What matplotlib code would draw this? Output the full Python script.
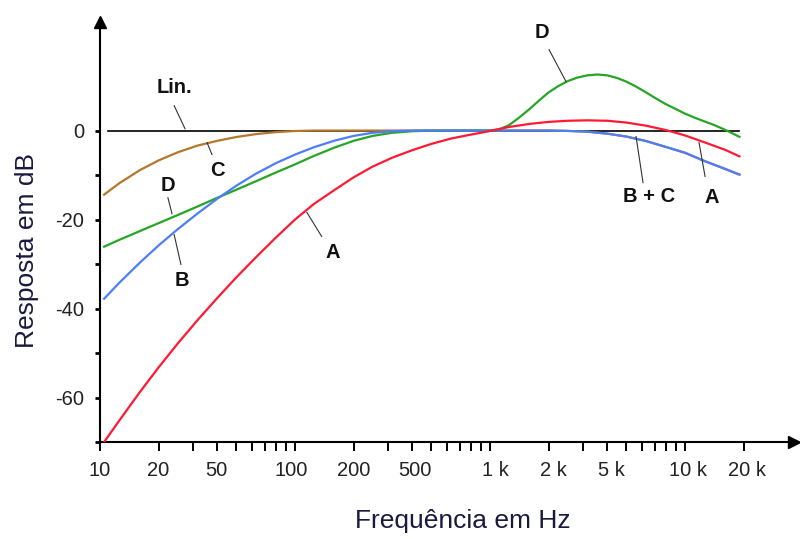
import matplotlib
matplotlib.use('Agg')
import matplotlib.pyplot as plt
import matplotlib.transforms as mtransforms

plt.rcParams['font.family'] = ['Liberation Sans', 'DejaVu Sans']

# frequencies (Hz) shared by the A, B and C curves
freq = [10.5, 12.5, 16, 20, 25, 31.5, 40, 50, 63, 80, 100, 125, 160, 200, 250, 315,
        400, 500, 630, 800, 1000, 1250, 1600, 2000, 2500, 3150, 4000, 5000, 6300,
        8000, 10000, 12500, 16000, 19000]

# response in dB
a_db = [-70, -65.3, -58.8, -53.2, -47.9, -42.7, -37.6, -33.0, -28.5, -24.0, -20.0, -16.5,
        -13.3, -10.5, -8.1, -6.1, -4.4, -3.0, -1.8, -0.9, -0.1, 0.8, 1.5, 1.95, 2.2, 2.3,
        2.2, 1.8, 1.1, 0.1, -1.1, -2.6, -4.3, -5.8]
b_db = [-37.8, -34.3, -29.7, -25.8, -22.2, -18.7, -15.3, -12.4, -9.7, -7.3, -5.4, -3.75,
        -2.25, -1.2, -0.5, -0.15, 0, 0, 0, 0, 0, 0, 0, 0, -0.08, -0.25, -0.7, -1.35, -2.35,
        -3.7, -5.0, -6.8, -8.6, -9.9]
c_db = [-14.4, -11.9, -8.9, -6.7, -4.9, -3.4, -2.3, -1.45, -0.8, -0.35, -0.1, 0, 0, 0,
        0, 0, 0, 0, 0, 0, 0, 0, 0, 0, -0.08, -0.25, -0.7, -1.35, -2.35, -3.7, -5.0, -6.8,
        -8.6, -9.9]

# D curve has its own, finer sampling around the peak
d_freq = [10.5, 12.5, 16, 20, 25, 31.5, 40, 50, 63, 80, 100, 125, 160, 200, 250, 315,
          400, 500, 630, 800, 1000, 1120, 1250, 1400, 1600, 1800, 2000, 2240, 2500, 2800,
          3150, 3550, 4000, 4500, 5000, 5600, 6300, 7100, 8000, 9000, 10000, 11200,
          12500, 14000, 16000, 19000]
d_db = [-26.1, -24.6, -22.6, -20.8, -19.0, -17.1, -15.1, -13.3, -11.4, -9.4, -7.6, -5.7,
        -3.8, -2.3, -1.2, -0.5, -0.15, -0.03, 0, 0, 0, 0.3, 1.2, 2.8, 4.9, 6.9, 8.6, 10.0,
        11.1, 11.9, 12.4, 12.6, 12.4, 11.8, 11.0, 9.9, 8.6, 7.2, 5.9, 4.8, 3.8, 2.9, 2.1,
        1.3, 0.2, -1.4]

lin_freq = [11, 19000]
lin_db = [0, 0]

xtick_vals = [10, 20, 50, 100, 200, 500, 1000, 2000, 5000, 10000, 20000]
xtick_labels = ['10', '20', '50', '100', '200', '500', '1 k', '2 k', '5 k', '10 k', '20 k']
xminor_vals = [30, 40, 60, 70, 80, 90, 300, 400, 600, 700, 800, 900,
               3000, 4000, 6000, 7000, 8000, 9000]
ytick_vals = [-60, -40, -20, 0]
ytick_labels = ['-60', '-40', '-20', '0']
yminor_vals = [-70, -50, -30, -10]

# curve labels: text, text position, leader start, leader end (freq, dB)
labels = [
    ('Lin.', (24.1, 9.7), (24.0, 5.6), (27.3, 0.4)),
    ('C', (39.8, -9.0), (35.4, -2.7), (37.5, -5.4)),
    ('D', (22.3, -12.4), (22.3, -15.1), (23.4, -18.7)),
    ('B', (26.3, -33.7), (24.0, -23.4), (26.0, -30.1)),
    ('A', (156, -27.4), (115, -18.4), (137, -23.8)),
    ('D', (1848, 22.0), (2007, 18.2), (2453, 11.0)),
    ('B + C', (6577, -14.9), (5607, -1.35), (6089, -11.7)),
    ('A', (13755, -15.1), (11796, -2.7), (12664, -10.3)),
]

fig = plt.figure(figsize=(8, 5.39), dpi=100)
ax = fig.add_axes([100 / 800, 97 / 539, 694 / 800, 420 / 539])
ax.set_xscale('log')
ax.set_xlim(10, 36200)
ax.set_ylim(-70, 24.4)

ax.plot(lin_freq, lin_db, color='black', lw=1.2, zorder=2)
ax.plot(freq, c_db, color='#b5772b', lw=1.6, zorder=3)
ax.plot(d_freq, d_db, color='#25a625', lw=1.6, zorder=3)
ax.plot(freq, b_db, color='#4d7ef7', lw=1.6, zorder=4)
ax.plot(freq, a_db, color='#ff1a33', lw=1.6, zorder=5)

for text, pos, p1, p2 in labels:
    ax.plot([p1[0], p2[0]], [p1[1], p2[1]], color='#333333', lw=0.8, zorder=6)
    ax.text(pos[0], pos[1], text, ha='center', va='center', fontsize=14.5,
            fontweight='bold', color='#111111')

# axes with arrow heads
for side in ['top', 'right']:
    ax.spines[side].set_visible(False)
for side in ['left', 'bottom']:
    ax.spines[side].set_linewidth(1.5)
ax.plot(0, 1, marker='^', color='black', markersize=8, transform=ax.transAxes, clip_on=False)
ax.plot(1, 0, marker='>', color='black', markersize=8, transform=ax.transAxes, clip_on=False)

ax.set_xticks(xtick_vals)
ax.set_xticklabels(xtick_labels)
ax.set_xticks(xminor_vals, minor=True)
ax.xaxis.set_minor_formatter(plt.NullFormatter())
ax.tick_params(axis='x', which='both', direction='out', length=6.5, width=1.4,
               labelsize=14.5, pad=7, colors='black', labelcolor='#222222')

ax.set_yticks(ytick_vals)
ax.set_yticklabels(ytick_labels)
ax.set_yticks(yminor_vals, minor=True)
ax.tick_params(axis='y', which='both', direction='out', length=3.6, width=2,
               labelsize=14.5, pad=8, labelcolor='#222222')

# tick labels in the original sit a little off their ticks
shifts = [0, -1, -20, -4, 0, -16, 5, 5, -15, 3, 3]
for lab, dx in zip(ax.get_xticklabels(), shifts):
    offset = mtransforms.ScaledTranslation(dx / 100, 0, fig.dpi_scale_trans)
    lab.set_transform(lab.get_transform() + offset)

fig.text(27 / 800, 1 - 250 / 539, 'Resposta em dB', rotation=90, ha='center', va='center',
         fontsize=19, color='#1a1a40')
fig.text(463 / 800, 1 - 521 / 539, 'Frequência em Hz', ha='center', va='center',
         fontsize=19, color='#1a1a40')

fig.savefig('out.png', dpi=100)
